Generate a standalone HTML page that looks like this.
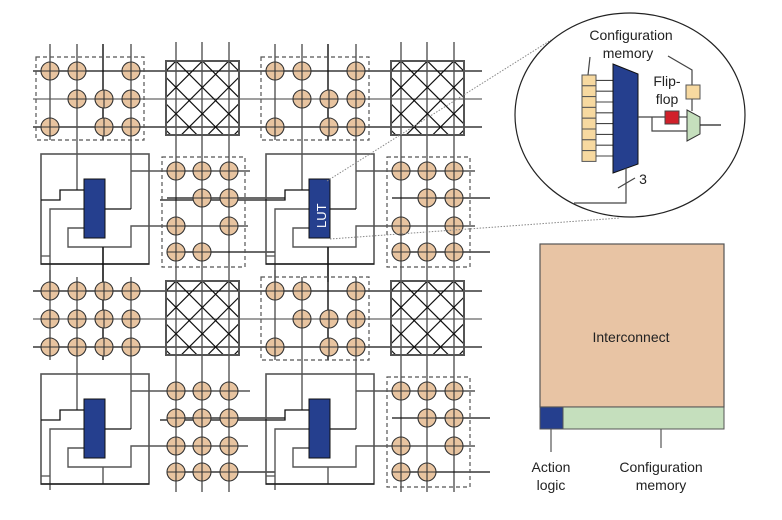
<!DOCTYPE html>
<html><head><meta charset="utf-8"><style>
html,body{margin:0;padding:0;background:#fff;width:782px;height:520px;overflow:hidden}
svg{display:block}
text{font-family:"Liberation Sans",sans-serif;fill:#222}
</style></head><body>
<svg id="s" width="782" height="520" viewBox="0 0 782 520" xmlns="http://www.w3.org/2000/svg">
<defs>
<clipPath id="c1"><rect x="166" y="61" width="73" height="74"/></clipPath>
<clipPath id="c2"><rect x="391" y="61" width="73" height="74"/></clipPath>
<clipPath id="c3"><rect x="166" y="281" width="73" height="74"/></clipPath>
<clipPath id="c4"><rect x="391" y="281" width="73" height="74"/></clipPath>
</defs>
<g id="g"></g>
<rect x="540" y="244" width="184" height="163" fill="#e8c4a4" stroke="#555" stroke-width="1.2"/>
<rect x="540" y="407" width="23" height="22" fill="#253f8e" stroke="#555" stroke-width="1"/>
<rect x="563" y="407" width="161" height="22" fill="#c5dfbd" stroke="#555" stroke-width="1"/>
<line x1="551" y1="429" x2="551" y2="452" stroke="#555" stroke-width="1.2"/>
<line x1="661" y1="429" x2="661" y2="448" stroke="#555" stroke-width="1.2"/>
<text x="631" y="342" font-size="14" text-anchor="middle">Interconnect</text>
<text x="551" y="472" font-size="14" text-anchor="middle">Action</text>
<text x="551" y="490" font-size="14" text-anchor="middle">logic</text>
<text x="661" y="472" font-size="14" text-anchor="middle">Configuration</text>
<text x="661" y="490" font-size="14" text-anchor="middle">memory</text>
<line x1="327" y1="181" x2="551" y2="40" stroke="#888" stroke-width="1" stroke-dasharray="1.5,1.5"/>
<line x1="330" y1="239" x2="620" y2="218" stroke="#888" stroke-width="1" stroke-dasharray="1.5,1.5"/>
<ellipse cx="630" cy="115" rx="115" ry="102" fill="#fff" stroke="#222" stroke-width="1.2"/>
<text x="631" y="40" font-size="14" text-anchor="middle">Configuration</text>
<text x="628" y="58" font-size="14" text-anchor="middle">memory</text>
<text x="667" y="86" font-size="14" text-anchor="middle">Flip-</text>
<text x="667" y="104" font-size="14" text-anchor="middle">flop</text>
<text x="643" y="184" font-size="14" text-anchor="middle">3</text>
<g id="z"></g>
</svg>
<script>
var g=document.getElementById('g'),z=document.getElementById('z'),h='';
function L(x1,y1,x2,y2,c,w){h+='<line x1="'+x1+'" y1="'+y1+'" x2="'+x2+'" y2="'+y2+'" stroke="'+(c||'#555')+'" stroke-width="'+(w||1.4)+'"/>';}
function P(d,c,w){h+='<path d="'+d+'" fill="none" stroke="'+(c||'#555')+'" stroke-width="'+(w||1.4)+'"/>';}
function C(x,y){h+='<circle cx="'+x+'" cy="'+y+'" r="9" fill="#e8c4a0" stroke="#333" stroke-width="1.1"/>';L(x-9,y,x+9,y,'#333',1.1);L(x,y-9,x,y+9,'#333',1.1);}
function D(x,y,w,hh){h+='<rect x="'+x+'" y="'+y+'" width="'+w+'" height="'+hh+'" fill="none" stroke="#555" stroke-width="1.2" stroke-dasharray="4,3"/>';}
var OX=[0,225],OY=[0,220];
for(var r=0;r<2;r++){var oy=OY[r];
 [71,99,127].forEach(function(y,i){L(33,y+oy,482,y+oy,i==1?'#666':'#111',1.3);});}
for(var c=0;c<2;c++){var ox=OX[c];[176,202,229].forEach(function(x){L(x+ox,42,x+ox,492,'#555',1.4);});}
var k=1;
for(var r=0;r<2;r++)for(var c=0;c<2;c++){var ox=OX[c],oy=OY[r],x0=166+ox,y0=61+oy;
 var s='<g clip-path="url(#c'+k+')">';
 for(var m=0;m<=5;m++){var sm=x0+y0+10+26.4*m;s+='<line x1="'+(sm-y0+80)+'" y1="'+(y0-80)+'" x2="'+(sm-y0-180)+'" y2="'+(y0+180)+'" stroke="#111" stroke-width="1.2"/>';}
 for(var m=-3;m<=2;m++){var df=x0-y0+10+26.4*m;s+='<line x1="'+(df+y0-80)+'" y1="'+(y0-80)+'" x2="'+(df+y0+180)+'" y2="'+(y0+180)+'" stroke="#111" stroke-width="1.2"/>';}
 s+='</g>';h+=s;h+='<rect x="'+x0+'" y="'+y0+'" width="73" height="74" fill="none" stroke="#555" stroke-width="2"/>';k++;}
for(var r=0;r<2;r++)for(var c=0;c<2;c++){var ox=OX[c],oy=OY[r];
 var tp=(r==0)?44:(57+oy);
 L(50+ox,r==0?44:270,50+ox,140+oy);
 L(77+ox,tp,77+ox,190+oy);
 L(103+ox,r==0?44:247,103+ox,140+oy,'#111');
 L(131+ox,tp,131+ox,209+oy);
 h+='<rect x="'+(41+ox)+'" y="'+(154+oy)+'" width="108" height="110" fill="none" stroke="#555" stroke-width="1.6"/>';
 P('M'+(84+ox)+' '+(190+oy)+'H'+(60+ox)+'V'+(200+oy)+'H'+(c==0?41:160),'#111',1.3);
 L(131+ox,209+oy,105+ox,209+oy,'#111',1.3);
 P('M'+(84+ox)+' '+(209+oy)+'H'+(50+ox)+'V'+(r==0?282:490),'#555',1.4);
 P('M'+(84+ox)+' '+(228+oy)+'H'+(68+ox)+'V'+(247+oy)+'H'+(131+ox)+'V'+(226+oy)+'H'+(c==0?248:475),'#555',1.4);
 L(103+ox,247+oy,103+ox,r==0?282:484,'#555',1.4);
 L(41+ox,256+oy,50+ox,256+oy,'#555',1.3);
 L(41+ox,264+oy,149+ox,264+oy,'#111',1.3);
 L(131+ox,171+oy,c==0?250:475,171+oy,'#555',1.4);
 L(167+ox,198+oy,c==0?285:490,198+oy,'#111',1.3);
 L(176+ox,252+oy,c==0?275:490,252+oy,'#111',1.3);
 h+='<rect x="'+(84+ox)+'" y="'+(179+oy)+'" width="21" height="59" fill="#253f8e" stroke="#111" stroke-width="1"/>';
}
var sp=[[0,1,3],[1,2,3],[0,2,3]],cp=[[0,1,2],[1,2],[0,2],[0,1]],cp2=[[0,1,2],[1,2],[0,2],[0,1,2]];
var SX=[50,77,104,131],SY=[71,99,127],CX=[176,202,229],CY=[171,198,226,252];
for(var r=0;r<2;r++)for(var c=0;c<2;c++){var ox=OX[c],oy=OY[r],full=(r==1&&c==0);
 for(var i=0;i<3;i++){var cols=full?[0,1,2,3]:sp[i];cols.forEach(function(j){C(SX[j]+ox,SY[i]+oy);});}
 if(!full)D(36+ox,57+oy,108,83);
}
for(var r=0;r<2;r++)for(var c=0;c<2;c++){var ox=OX[c],oy=OY[r],full=(r==1&&c==0);
 var pat=(r==0&&c==1)?cp2:cp;
 for(var i=0;i<4;i++){var cols=full?[0,1,2]:pat[i];cols.forEach(function(j){C(CX[j]+ox,CY[i]+oy);});}
 if(!full)D(162+ox,157+oy,83,110);
}
h+='<text x="0" y="0" font-size="13" style="fill:#fff" transform="translate(326,228) rotate(-90)">LUT</text>';
g.innerHTML=h;
h='';
L(590,57,588,75,'#444',1.2);
for(var i=0;i<8;i++){h+='<rect x="582" y="'+(75+i*10.8)+'" width="14" height="10.8" fill="#f7d9a0" stroke="#555" stroke-width="1"/>';L(596,80.4+i*10.8,613,80.4+i*10.8,'#444',1.1);}
h+='<polygon points="613,64 638,74 638,164 613,173" fill="#253f8e" stroke="#111" stroke-width="1"/>';
L(638,117,665,117,'#444',1.2);
P('M652 117V131H687','#444',1.2);
L(679,117,687,117,'#444',1.2);
P('M668 56L692 70V85','#444',1.2);
h+='<rect x="686" y="85" width="14" height="14" fill="#f7d9a0" stroke="#555" stroke-width="1"/>';
L(692,99,692,111,'#444',1.2);
h+='<rect x="665" y="111" width="14" height="13" fill="#d0202a" stroke="#444" stroke-width="1"/>';
h+='<polygon points="687,110 700,117 700,134 687,141" fill="#c5dfbd" stroke="#333" stroke-width="1"/>';
L(700,125,721,125,'#222',1.2);
P('M626 168V203H574','#444',1.2);
L(618,188,635,178,'#444',1.2);
z.innerHTML=h;
</script>
</body></html>
